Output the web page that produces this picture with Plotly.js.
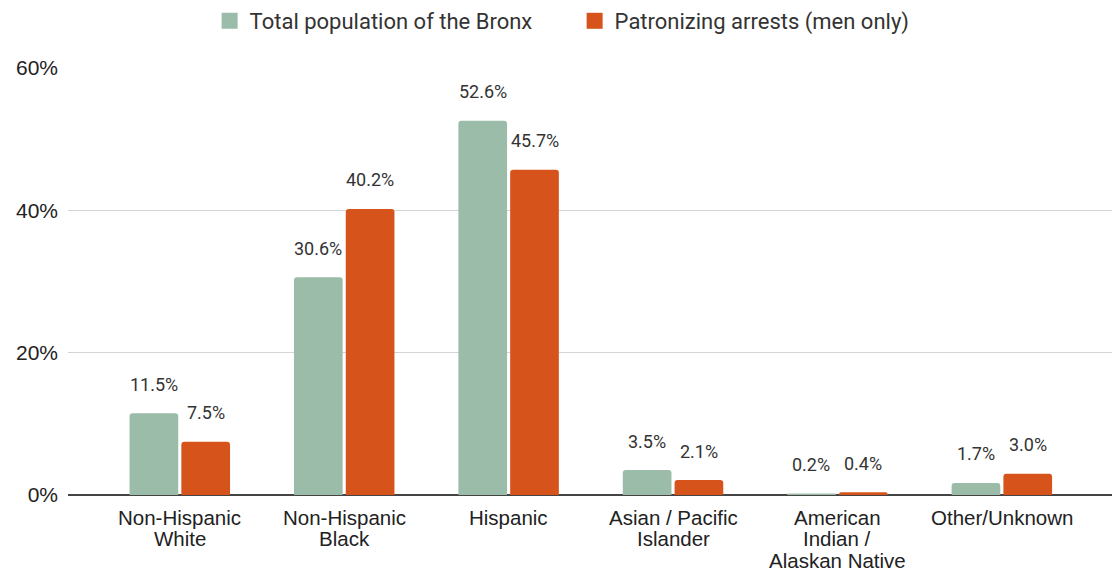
<!DOCTYPE html>
<html><head><meta charset="utf-8">
<script src="https://cdn.plot.ly/plotly-3.0.1.min.js"></script>
<style>html,body{margin:0;padding:0;background:#fff}#chart{width:1115px;height:571px}</style>
</head><body><div id="chart"></div>
<script>
const categories = ["Non-Hispanic<br>White","Non-Hispanic<br>Black","Hispanic","Asian / Pacific<br>Islander","American<br>Indian /<br>Alaskan Native","Other/Unknown"];
const seriesNames = ["Total population of the Bronx","Patronizing arrests (men only)"];
const bronxPop = [0.115,0.306,0.526,0.035,0.002,0.017];
const arrests = [0.075,0.402,0.457,0.021,0.004,0.030];
const colors = ["#9bbca9","#d6541c"];
const yTicks = [0,0.2,0.4,0.6];
const yTickText = ["0%","20%","40%","60%"];

const series = [bronxPop, arrests];
const traces = series.map((vals,i)=>({
  type:'bar', name:seriesNames[i], x:categories.map((c,k)=>k), y:vals,
  marker:{color:colors[i]}, hoverinfo:'none', showlegend:false
}));
// legend entries with larger square keys
seriesNames.forEach((n,i)=>{
  traces.push({type:'scatter', mode:'markers', name:n, x:[null], y:[null],
    marker:{symbol:'square', size:16, color:colors[i]}, hoverinfo:'none'});
});
const annotations = [];
series.forEach((vals,i)=>{
  vals.forEach((v,k)=>{
    annotations.push({x:k, y:v, xref:'x', yref:'y', text:(v*100).toFixed(1)+'%',
      showarrow:false, xshift:(i===0?-26:26), yshift:29, yanchor:'middle',
      font:{family:'Roboto, sans-serif', size:18, color:'#333'}});
  });
});
// category labels, one annotation per line for tight line spacing
categories.forEach((c,k)=>{
  c.split('<br>').forEach((line,j)=>{
    annotations.push({x:k, y:0, xref:'x', yref:'y', text:line, showarrow:false,
      yanchor:'middle', yshift:-22-21.5*j, borderpad:0,
      font:{family:'Liberation Sans, Arial, sans-serif', size:20.5, color:'#222'}});
  });
});
const layout = {
  width:1115, height:571,
  margin:{l:68,r:3,t:68,b:76},
  paper_bgcolor:'#fff', plot_bgcolor:'#fff',
  barmode:'group', bargap:0.37, bargroupgap:0.06, barcornerradius:3,
  showlegend:true,
  legend:{orientation:'h', x:0.188, xref:'container', xanchor:'left', y:1.0, yref:'container', yanchor:'top',
    entrywidth:320, entrywidthmode:'pixels',
    font:{family:'Roboto, sans-serif', size:22, color:'#333'}, traceorder:'normal'},
  xaxis:{type:'linear', range:[-0.68,5.67], showticklabels:false,
    showgrid:false, zeroline:false, showline:false, ticks:''},
  yaxis:{range:[0,0.6], tickvals:yTicks, ticktext:yTickText, showgrid:true, gridcolor:'#d4d4d4',
    zeroline:true, zerolinecolor:'#444', zerolinewidth:1.5, showline:false, ticks:'', ticklabelstandoff:9,
    tickfont:{family:'Liberation Sans, Arial, sans-serif', size:21, color:'#222'}},
  annotations:annotations
};
Plotly.newPlot('chart', traces, layout, {displayModeBar:false, staticPlot:true});
</script></body></html>
